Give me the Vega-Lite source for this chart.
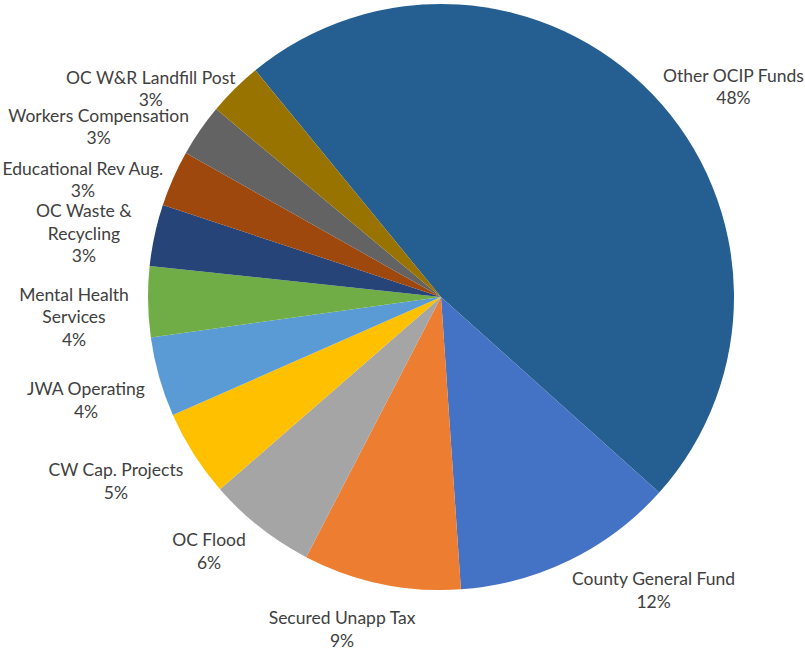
{
  "$schema": "https://vega.github.io/schema/vega-lite/v6.json",
  "width": 728,
  "height": 594,
  "autosize": "none",
  "padding": {"left": 77, "top": 0, "right": 0, "bottom": 56},
  "background": "white",
  "config": {
    "view": {"stroke": null},
    "text": {"lineBreak": "\n", "font": "Lato", "fontSize": 17.5, "lineHeight": 22.5, "color": "#404040", "align": "center", "baseline": "middle"}
  },
  "data": {
    "values": [
      {"order": 1, "fund": "Other OCIP Funds", "pct": 47.6, "label": "Other OCIP Funds\n48%"},
      {"order": 2, "fund": "County General Fund", "pct": 12.3, "label": "County General Fund\n12%"},
      {"order": 3, "fund": "Secured Unapp Tax", "pct": 8.7, "label": "Secured Unapp Tax\n9%"},
      {"order": 4, "fund": "OC Flood", "pct": 6.0, "label": "OC Flood\n6%"},
      {"order": 5, "fund": "CW Cap. Projects", "pct": 4.8, "label": "CW Cap. Projects\n5%"},
      {"order": 6, "fund": "JWA Operating", "pct": 4.4, "label": "JWA Operating\n4%"},
      {"order": 7, "fund": "Mental Health Services", "pct": 3.9, "label": "Mental Health\nServices\n4%"},
      {"order": 8, "fund": "OC Waste & Recycling", "pct": 3.4, "label": "OC Waste &\nRecycling\n3%"},
      {"order": 9, "fund": "Educational Rev Aug.", "pct": 3.1, "label": "Educational Rev Aug.\n3%"},
      {"order": 10, "fund": "Workers Compensation", "pct": 2.9, "label": "Workers Compensation\n3%"},
      {"order": 11, "fund": "OC W&R Landfill Post", "pct": 3.0, "label": "OC W&R Landfill Post\n3%"}
    ]
  },
  "encoding": {
    "theta": {"field": "pct", "type": "quantitative", "stack": true, "scale": {"range": [5.597, 11.880]}},
    "order": {"field": "order", "type": "quantitative"}
  },
  "layer": [
    {
      "mark": {"type": "arc", "outerRadius": 293},
      "encoding": {
        "color": {
          "field": "fund",
          "type": "nominal",
          "legend": null,
          "scale": {
            "domain": ["Other OCIP Funds", "County General Fund", "Secured Unapp Tax", "OC Flood", "CW Cap. Projects", "JWA Operating", "Mental Health Services", "OC Waste & Recycling", "Educational Rev Aug.", "Workers Compensation", "OC W&R Landfill Post"],
            "range": ["#255E91", "#4472C4", "#ED7D31", "#A5A5A5", "#FFC000", "#5B9BD5", "#70AD47", "#264478", "#9E480E", "#636363", "#997300"]
          }
        }
      }
    },
    {
      "mark": {"type": "text", "radius": 366, "thetaOffset": 0.118},
      "encoding": {"text": {"condition": {"test": {"field": "fund", "oneOf": ["Other OCIP Funds"]}, "field": "label", "type": "nominal"}, "value": ""}}
    },
    {
      "mark": {"type": "text", "radius": 369, "thetaOffset": 0.073},
      "encoding": {"text": {"condition": {"test": {"field": "fund", "oneOf": ["CW Cap. Projects"]}, "field": "label", "type": "nominal"}, "value": ""}}
    },
    {
      "mark": {"type": "text", "radius": 337, "thetaOffset": 0.093},
      "encoding": {"text": {"condition": {"test": {"field": "fund", "oneOf": ["Secured Unapp Tax", "OC Flood"]}, "field": "label", "type": "nominal"}, "value": ""}}
    },
    {
      "mark": {"type": "text", "radius": 354, "thetaOffset": -0.19},
      "encoding": {"text": {"condition": {"test": {"field": "fund", "oneOf": ["County General Fund"]}, "field": "label", "type": "nominal"}, "value": ""}}
    },
    {
      "mark": {"type": "text", "radius": 367, "thetaOffset": 0.02},
      "encoding": {"text": {"condition": {"test": {"field": "fund", "oneOf": ["JWA Operating", "Mental Health Services", "OC Waste & Recycling"]}, "field": "label", "type": "nominal"}, "value": ""}}
    },
    {
      "mark": {"type": "text", "radius": 380, "thetaOffset": -0.076},
      "encoding": {"text": {"condition": {"test": {"field": "fund", "oneOf": ["Educational Rev Aug."]}, "field": "label", "type": "nominal"}, "value": ""}}
    },
    {
      "mark": {"type": "text", "radius": 387, "thetaOffset": -0.12},
      "encoding": {"text": {"condition": {"test": {"field": "fund", "oneOf": ["Workers Compensation"]}, "field": "label", "type": "nominal"}, "value": ""}}
    },
    {
      "mark": {"type": "text", "radius": 363, "thetaOffset": -0.146},
      "encoding": {"text": {"condition": {"test": {"field": "fund", "oneOf": ["OC W&R Landfill Post"]}, "field": "label", "type": "nominal"}, "value": ""}}
    }
  ]
}
